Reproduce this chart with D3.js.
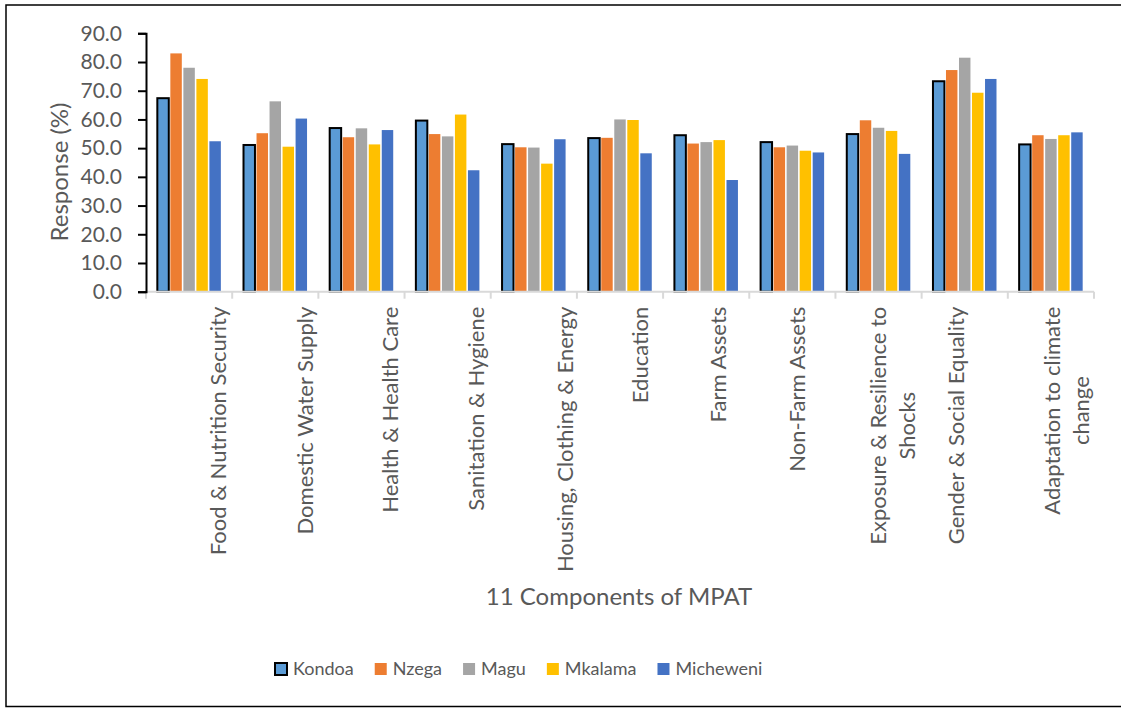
<!DOCTYPE html>
<html>
<head>
<meta charset="utf-8">
<script src="https://cdn.jsdelivr.net/npm/d3@7"></script>
<style>
  body { margin: 0; background: #fff; }
  text { font-family: Lato, "Open Sans", sans-serif; fill: #595959; }
</style>
</head>
<body>
<div id="chart"></div>
<script>
var categories = ["Food & Nutrition Security", "Domestic Water Supply", "Health & Health Care",
  "Sanitation & Hygiene", "Housing, Clothing & Energy", "Education", "Farm Assets",
  "Non-Farm Assets", "Exposure & Resilience to\nShocks", "Gender & Social Equality",
  "Adaptation to climate\nchange"];
var series = ["Kondoa", "Nzega", "Magu", "Mkalama", "Micheweni"];
var kondoa    = [67.4, 51.1, 57.0, 59.6, 51.4, 53.5, 54.5, 52.1, 54.9, 73.3, 51.3];
var nzega     = [83.0, 55.2, 53.8, 54.9, 50.3, 53.6, 51.6, 50.3, 59.7, 77.2, 54.5];
var magu      = [78.0, 66.3, 56.9, 54.1, 50.2, 60.0, 52.1, 50.9, 57.1, 81.5, 53.2];
var mkalama   = [74.1, 50.5, 51.3, 61.7, 44.6, 59.8, 52.8, 49.1, 56.0, 69.3, 54.5];
var micheweni = [52.4, 60.3, 56.3, 42.3, 53.1, 48.2, 38.9, 48.5, 48.0, 74.1, 55.5];
var yTicks = [0, 10, 20, 30, 40, 50, 60, 70, 80, 90];

var values = [kondoa, nzega, magu, mkalama, micheweni];
var colors = ["#5B9BD5", "#ED7D31", "#A5A5A5", "#FFC000", "#4472C4"];

var width = 1121,
    height = 708;
var plotLeft = 146, plotRight = 1094, plotTop = 33.3, plotBottom = 291.7;
// excel places the rotated labels a bit off centre, this is how far
var labelShift = [29, 30, 29, 29, 31, 20, 12, 5, 0, -8, 1];

var svg = d3.select("#chart").append("svg")
    .attr("width", width)
    .attr("height", height);

svg.append("rect")
    .attr("x", 6)
    .attr("y", 5)
    .attr("width", 1125)
    .attr("height", 701.5)
    .attr("fill", "#fff")
    .attr("stroke", "#000")
    .attr("stroke-width", 1.5);

var x0 = d3.scaleBand()
    .domain(categories)
    .range([plotLeft, plotRight]);
var x1 = d3.scaleBand()
    .domain(series)
    .range([0, x0.bandwidth()])
    .paddingInner(0.12)
    .paddingOuter(0.87);
var y = d3.scaleLinear()
    .domain([0, 90])
    .range([plotBottom, plotTop]);

// bars
var groups = svg.selectAll(".cat")
    .data(categories)
  .enter().append("g")
    .attr("class", "cat")
    .attr("transform", function(d) { return "translate(" + x0(d) + ",0)"; });

groups.selectAll("rect")
    .data(function(d, i) {
      return series.map(function(s, j) { return {s: s, j: j, v: values[j][i]}; });
    })
  .enter().append("rect")
    .attr("x", function(d) { return x1(d.s); })
    .attr("y", function(d) { return y(d.v); })
    .attr("width", x1.bandwidth())
    .attr("height", function(d) { return y(0) - y(d.v); })
    .attr("fill", function(d) { return colors[d.j]; })
    .attr("stroke", function(d) { return d.j == 0 ? "#000" : "none"; })
    .attr("stroke-width", 2);

// x axis
var xAxis = svg.append("g")
    .attr("transform", "translate(0," + plotBottom + ")");
xAxis.append("line")
    .attr("x1", plotLeft).attr("x2", plotRight)
    .attr("stroke", "#D9D9D9")
    .attr("stroke-width", 2);
xAxis.selectAll(".xtick")
    .data(categories.concat([null]))
  .enter().append("line")
    .attr("class", "xtick")
    .attr("x1", function(d) { return d ? x0(d) : plotRight; })
    .attr("x2", function(d) { return d ? x0(d) : plotRight; })
    .attr("y1", 0)
    .attr("y2", 7)
    .attr("stroke", "#D9D9D9")
    .attr("stroke-width", 2);

categories.forEach(function(c, i) {
  var lines = c.split("\n");
  var cx = x0(c) + x0.bandwidth() / 2 + labelShift[i];
  var t = svg.append("g");
  var texts = lines.map(function(l, k) {
    return t.append("text")
      .attr("text-anchor", "middle")
      .attr("dy", "0.35em")
      .style("font-size", "22px")
      .text(l);
  });
  var maxLen = d3.max(texts, function(tx) { return tx.node().getComputedTextLength(); });
  texts.forEach(function(tx, k) {
    tx.attr("transform", "translate(" + (cx + k * 29) + "," + (plotBottom + 15 + maxLen / 2) + ")rotate(-90)");
  });
});

// y axis
var yAxis = svg.append("g")
    .attr("transform", "translate(" + plotLeft + ",0)")
    .call(d3.axisLeft(y).tickValues(yTicks).tickFormat(d3.format(".1f")).tickSize(8).tickPadding(16));
yAxis.select(".domain").attr("stroke", "#000").attr("stroke-width", 2);
yAxis.selectAll(".tick line").attr("stroke", "#000").attr("stroke-width", 2);
yAxis.selectAll(".tick text")
    .attr("fill", "#595959")
    .style("font-size", "21px")
    .style("font-family", "Lato, 'Open Sans', sans-serif");

svg.append("text")
    .attr("transform", "translate(60,172)rotate(-90)")
    .attr("text-anchor", "middle")
    .attr("dy", "0.35em")
    .style("font-size", "24px")
    .text("Response (%)");

svg.append("text")
    .attr("x", 619)
    .attr("y", 605)
    .attr("text-anchor", "middle")
    .style("font-size", "24px")
    .text("11 Components of MPAT");

// legend
var legend = svg.append("g");
var lx = 275;
series.forEach(function(s, j) {
  legend.append("rect")
      .attr("x", lx)
      .attr("y", 663)
      .attr("width", 12)
      .attr("height", 12)
      .attr("fill", colors[j])
      .attr("stroke", j == 0 ? "#000" : "none")
      .attr("stroke-width", 2);
  var tx = legend.append("text")
      .attr("x", lx + 18)
      .attr("y", 669)
      .attr("dy", "0.35em")
      .style("font-size", "18px")
      .text(s);
  lx += 18 + tx.node().getComputedTextLength() + 21;
});
</script>
</body>
</html>
